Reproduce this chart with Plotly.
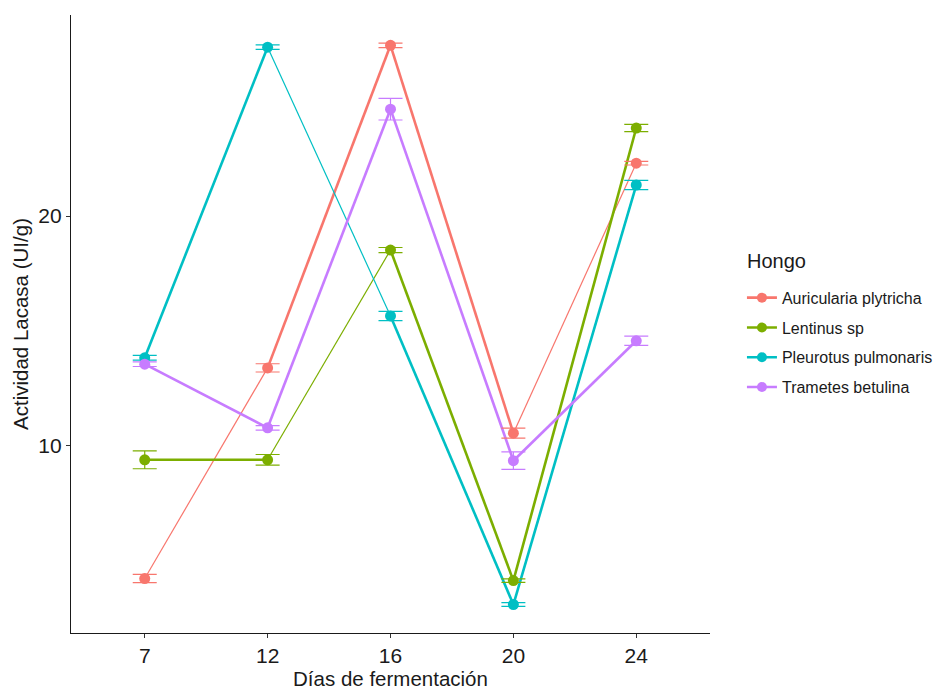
import plotly.graph_objects as go

dias = ["7", "12", "16", "20", "24"]
hongos = ["Auricularia plytricha", "Lentinus sp", "Pleurotus pulmonaris", "Trametes betulina"]

auricularia = [4.22, 13.39, 27.43, 10.55, 22.30]
auricularia_err = [0.18, 0.18, 0.10, 0.22, 0.08]
lentinus = [9.39, 9.39, 18.52, 4.13, 23.83]
lentinus_err = [0.39, 0.23, 0.11, 0.08, 0.16]
pleurotus = [13.83, 27.35, 15.65, 3.09, 21.35]
pleurotus_err = [0.10, 0.10, 0.20, 0.08, 0.20]
trametes = [13.55, 10.78, 24.65, 9.35, 14.57]
trametes_err = [0.10, 0.10, 0.47, 0.38, 0.20]

valores = [auricularia, lentinus, pleurotus, trametes]
errores = [auricularia_err, lentinus_err, pleurotus_err, trametes_err]
colores = ["#F8766D", "#7CAE00", "#00BFC4", "#C77CFF"]
# rendered stroke width of each segment (style)
anchos = [
    [1.2, 2.6, 2.6, 1.2],
    [2.6, 1.2, 2.6, 2.6],
    [2.6, 1.2, 2.6, 2.6],
    [2.6, 2.6, 2.6, 2.6],
]

fig = go.Figure()
for name, ys, errs, col, ws in zip(hongos, valores, errores, colores, anchos):
    for i in range(len(dias) - 1):
        fig.add_trace(go.Scatter(
            x=dias[i:i + 2], y=ys[i:i + 2], mode="lines",
            line=dict(color=col, width=ws[i]), showlegend=False, hoverinfo="skip"))
for name, ys, errs, col in zip(hongos, valores, errores, colores):
    fig.add_trace(go.Scatter(
        x=dias, y=ys, mode="markers", name=name, showlegend=False,
        marker=dict(color=col, size=11),
        error_y=dict(type="data", array=errs, visible=True, color=col, thickness=1.2, width=12)))
for name, col in zip(hongos, colores):
    fig.add_trace(go.Scatter(
        x=[None], y=[None], mode="lines+markers", name=name, legendgroup=name,
        line=dict(color=col, width=2.6), marker=dict(color=col, size=10)))

axis_font = dict(family="Arial, Liberation Sans, sans-serif", size=21, color="#1a1a1a")
fig.update_layout(
    width=949, height=694,
    paper_bgcolor="white", plot_bgcolor="white",
    margin=dict(l=63, r=247, t=7, b=69),
    font=dict(family="Arial, Liberation Sans, sans-serif", color="#1a1a1a"),
    xaxis=dict(
        type="category", categoryorder="array", categoryarray=dias,
        range=[-0.6, 4.6], showgrid=False, zeroline=False,
        showline=True, linecolor="#1a1a1a", linewidth=1.2,
        ticks="outside", ticklen=4, tickcolor="#333", tickwidth=1.1,
        tickfont=axis_font,
        title=dict(text="Días de fermentación", font=dict(size=20.5, color="#1a1a1a"), standoff=3),
    ),
    yaxis=dict(
        range=[1.85, 28.75], tickvals=[10, 20], showgrid=False, zeroline=False,
        showline=True, linecolor="#1a1a1a", linewidth=1.2,
        ticks="outside", ticklen=4, tickcolor="#333", tickwidth=1.1,
        tickfont=axis_font,
        title=dict(text="Actividad Lacasa (UI/g)", font=dict(size=20.5, color="#1a1a1a"), standoff=4),
    ),
    legend=dict(
        x=1.05, y=0.57, xanchor="left", yanchor="top",
        font=dict(size=16, color="#1a1a1a"), tracegroupgap=6,
        itemwidth=30, bgcolor="rgba(0,0,0,0)",
    ),
    annotations=[dict(
        text="Hongo", xref="paper", yref="paper", x=1.0548, y=0.602,
        xanchor="left", yanchor="middle", showarrow=False,
        font=dict(size=20, color="#1a1a1a"))],
)

fig.write_html("out.html")
